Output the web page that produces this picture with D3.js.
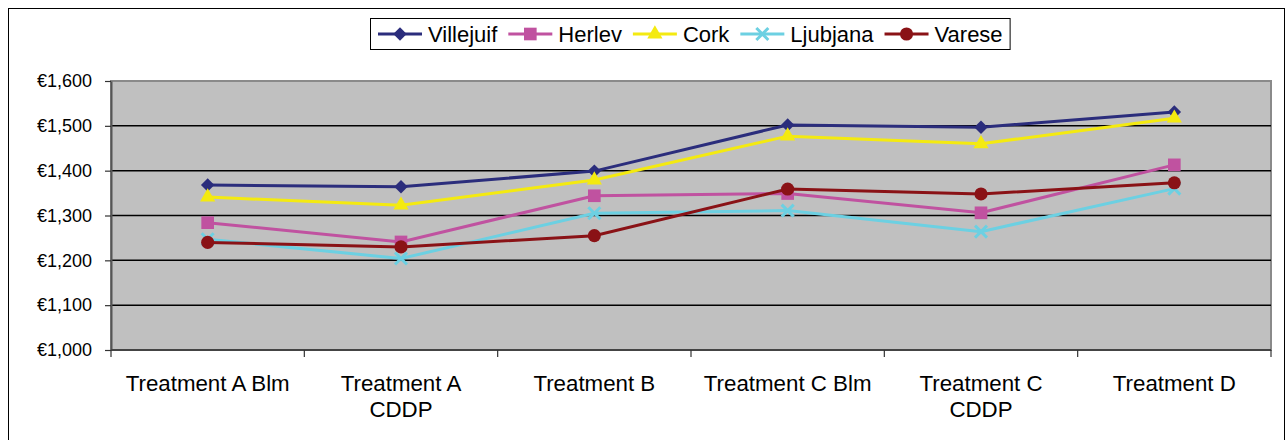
<!DOCTYPE html>
<html>
<head>
<meta charset="utf-8">
<script src="https://cdn.jsdelivr.net/npm/d3@7"></script>
<style>
  body { margin: 0; background: #fff; }
  text { font-family: "Liberation Sans", Arial, sans-serif; fill: #000; }
</style>
</head>
<body>
<div id="chart"></div>
<script>
// data
const categories = ["Treatment A Blm", "Treatment A|CDDP", "Treatment B", "Treatment C Blm", "Treatment C|CDDP", "Treatment D"];
const yTicks = [1000, 1100, 1200, 1300, 1400, 1500, 1600];
const seriesNames = ["Villejuif", "Herlev", "Cork", "Ljubjana", "Varese"];
const villejuif = [1368, 1364, 1399, 1502, 1497, 1531];
const herlev = [1284, 1241, 1344, 1349, 1306, 1413];
const cork = [1341, 1323, 1379, 1477, 1460, 1517];
const ljubjana = [1247, 1204, 1305, 1311, 1264, 1360];
const varese = [1240, 1230, 1255, 1359, 1348, 1373];

const w = 1287, h = 440;
const plot = { left: 111, right: 1271, top: 81, bottom: 350 };
const colors = ["#2b2d7c", "#c052a0", "#f4ea10", "#6cd0e2", "#8a1216"];
const markers = ["diamond", "square", "triangle", "x", "circle"];
const allValues = [villejuif, herlev, cork, ljubjana, varese];

const svg = d3.select("#chart")
  .append("svg")
  .attr("width", w)
  .attr("height", h);

// outer frame
svg.append("rect")
  .attr("x", 8.5).attr("y", 8.5)
  .attr("width", 1276).attr("height", 440)
  .attr("fill", "none").attr("stroke", "#000").attr("stroke-width", 1);

const xScale = d3.scaleBand()
  .domain(categories)
  .range([plot.left, plot.right]);

const yScale = d3.scaleLinear()
  .domain([1000, 1600])
  .range([plot.bottom, plot.top]);

const cx = c => xScale(c) + xScale.bandwidth() / 2;

// plot background
svg.append("rect")
  .attr("x", plot.left).attr("y", plot.top)
  .attr("width", plot.right - plot.left).attr("height", plot.bottom - plot.top)
  .attr("fill", "#c0c0c0")
  .attr("stroke", "#8a8a8a").attr("stroke-width", 2);

// gridlines
svg.append("g")
  .selectAll("line")
  .data(yTicks.slice(1, -1))
  .enter()
  .append("line")
  .attr("x1", plot.left).attr("x2", plot.right)
  .attr("y1", d => yScale(d)).attr("y2", d => yScale(d))
  .attr("stroke", "#000").attr("stroke-width", 1.5);

// y axis
const yAxis = d3.axisLeft(yScale)
  .tickValues(yTicks)
  .tickFormat(d => "€" + d3.format(",")(d))
  .tickSizeInner(6)
  .tickSizeOuter(0)
  .tickPadding(13);

const gy = svg.append("g")
  .attr("transform", "translate(" + plot.left + ",0)")
  .call(yAxis);
gy.select(".domain").attr("stroke", "#555").attr("stroke-width", 2);
gy.selectAll(".tick line").attr("stroke", "#333").attr("stroke-width", 1.2);
gy.selectAll(".tick text").style("font-size", "18px").style("font-family", "Liberation Sans, Arial, sans-serif");

// x axis: ticks at the category boundaries
svg.append("line")
  .attr("x1", plot.left).attr("x2", plot.right)
  .attr("y1", plot.bottom).attr("y2", plot.bottom)
  .attr("stroke", "#444").attr("stroke-width", 2);

const bounds = categories.map(c => xScale(c)).concat([plot.right]);
svg.append("g")
  .selectAll("line")
  .data(bounds)
  .enter()
  .append("line")
  .attr("x1", d => d).attr("x2", d => d)
  .attr("y1", plot.bottom).attr("y2", plot.bottom + 7)
  .attr("stroke", "#333").attr("stroke-width", 1.2);

const xLabels = svg.append("g")
  .selectAll("text")
  .data(categories)
  .enter()
  .append("text")
  .attr("text-anchor", "middle")
  .attr("y", 391)
  .style("font-size", "22.3px");
xLabels.each(function (d) {
  const parts = d.split("|");
  d3.select(this).selectAll("tspan")
    .data(parts)
    .enter()
    .append("tspan")
    .attr("x", cx(d))
    .attr("dy", (p, i) => i === 0 ? 0 : 26)
    .text(p => p);
});

// marker drawing
const markerPath = (type) => {
  if (type === "diamond") return d3.symbol().type(d3.symbolSquare).size(90)();
  if (type === "square") return d3.symbol().type(d3.symbolSquare).size(160)();
  if (type === "triangle") return d3.symbol().type(d3.symbolTriangle).size(100)();
  if (type === "circle") return d3.symbol().type(d3.symbolCircle).size(135)();
  return "M-6,-6L6,6M-6,6L6,-6";
};

const drawMarker = (g, type, color, x, y) => {
  const p = g.append("path")
    .attr("d", markerPath(type))
    .attr("transform", "translate(" + x + "," + y + ")" + (type === "diamond" ? " rotate(45)" : ""));
  if (type === "x") p.attr("fill", "none").attr("stroke", color).attr("stroke-width", 3);
  else p.attr("fill", color);
};

const line = d3.line()
  .x((d, i) => cx(categories[i]))
  .y(d => yScale(d));

seriesNames.forEach((name, si) => {
  const g = svg.append("g").attr("class", "series");
  g.append("path")
    .datum(allValues[si])
    .attr("d", line)
    .attr("fill", "none")
    .attr("stroke", colors[si])
    .attr("stroke-width", 3);
  allValues[si].forEach((v, i) => drawMarker(g, markers[si], colors[si], cx(categories[i]), yScale(v)));
});

// legend
const legend = svg.append("g").attr("id", "legend");
const legendBox = legend.append("rect")
  .attr("x", 370.5).attr("y", 18.5)
  .attr("height", 31)
  .attr("fill", "#fff").attr("stroke", "#000").attr("stroke-width", 1);

let lx = 378;
seriesNames.forEach((name, si) => {
  const ly = 34;
  legend.append("line")
    .attr("x1", lx).attr("x2", lx + 44)
    .attr("y1", ly).attr("y2", ly)
    .attr("stroke", colors[si]).attr("stroke-width", 3);
  drawMarker(legend, markers[si], colors[si], lx + 22, ly);
  const t = legend.append("text")
    .attr("x", lx + 50)
    .attr("y", ly + 8)
    .style("font-size", "22px")
    .text(name);
  lx += 50 + t.node().getComputedTextLength() + 11;
});
legendBox.attr("width", lx - 370 - 4);
</script>
</body>
</html>
